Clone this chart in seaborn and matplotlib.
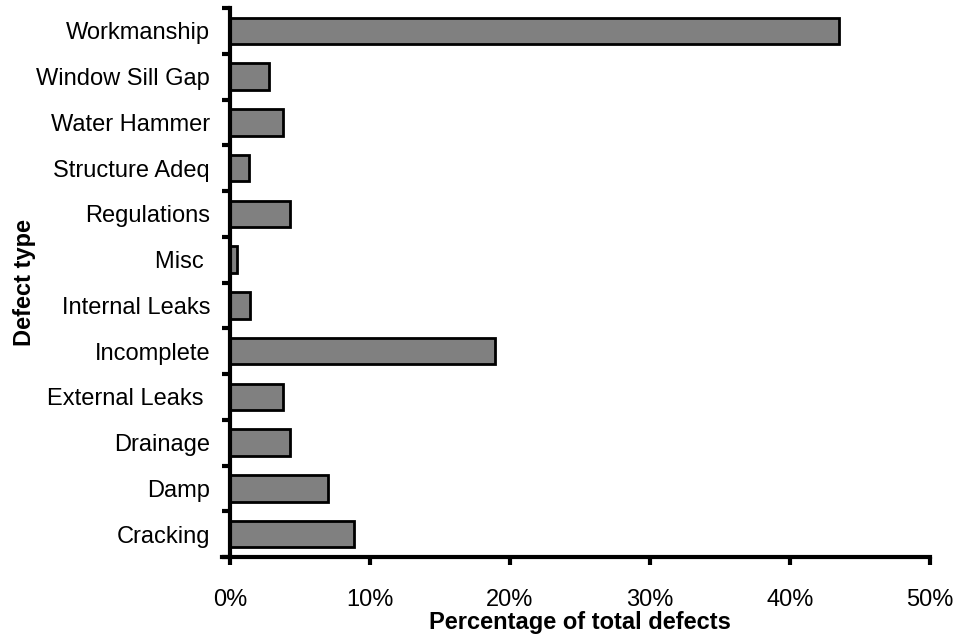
import matplotlib
matplotlib.use("Agg")
import matplotlib.pyplot as plt
from matplotlib.ticker import FuncFormatter
import seaborn as sns
import pandas as pd

# Share of all recorded defects by type (percent)
defect_types = [
    "Workmanship", "Window Sill Gap", "Water Hammer", "Structure Adeq",
    "Regulations", "Misc ", "Internal Leaks", "Incomplete",
    "External Leaks ", "Drainage", "Damp", "Cracking",
]
percentages = [43.5, 2.76, 3.76, 1.38, 4.26, 0.52, 1.4, 18.9, 3.76, 4.26, 7.0, 8.88]
x_ticks = [0, 10, 20, 30, 40, 50]

df = pd.DataFrame({"Defect type": defect_types, "Percent": percentages})

sns.set_theme(style="white")
plt.rcParams["font.family"] = ["Liberation Sans", "DejaVu Sans"]

FS = 17

fig = plt.figure(figsize=(9.55, 6.36), dpi=100)
ax = fig.add_axes([230 / 955, 1 - 557 / 636, 700 / 955, 549 / 636])

sns.barplot(data=df, x="Percent", y="Defect type", order=defect_types,
            color="#808080", saturation=1, edgecolor="black", linewidth=2.0,
            width=0.58, ax=ax)

ax.set_xlim(0, 50)
ax.set_ylim(len(defect_types) - 0.5, -0.5)
ax.set_xticks(x_ticks)
ax.xaxis.set_major_formatter(FuncFormatter(lambda v, p: f"{v:.0f}%"))

# Y tick marks sit on the boundaries between categories
ax.set_yticks(list(range(len(defect_types))))
ax.set_yticklabels(defect_types)
ax.yaxis.set_tick_params(length=0)
for b in [i - 0.5 for i in range(len(defect_types) + 1)]:
    ax.plot([-0.57, 0], [b, b], color="black", lw=3, clip_on=False,
            solid_capstyle="butt")

for side in ["top", "right"]:
    ax.spines[side].set_visible(False)
for side in ["left", "bottom"]:
    ax.spines[side].set_linewidth(3)
    ax.spines[side].set_color("black")
ax.spines["bottom"].set_bounds(-0.57, 50)

ax.tick_params(axis="x", direction="out", length=5.8, width=3, pad=17.5,
               labelsize=FS, colors="black", bottom=True)
ax.tick_params(axis="y", pad=14.4, labelsize=FS, colors="black")

ax.set_xlabel("Percentage of total defects", fontsize=FS, fontweight="bold",
              color="black")
ax.xaxis.set_label_coords(0.5, -54.5 / 549)
ax.set_ylabel("Defect type", fontsize=FS, fontweight="bold", color="black")
ax.yaxis.set_label_coords(-194 / 700, 0.5)

fig.savefig("out.png", dpi=100, facecolor="white")
